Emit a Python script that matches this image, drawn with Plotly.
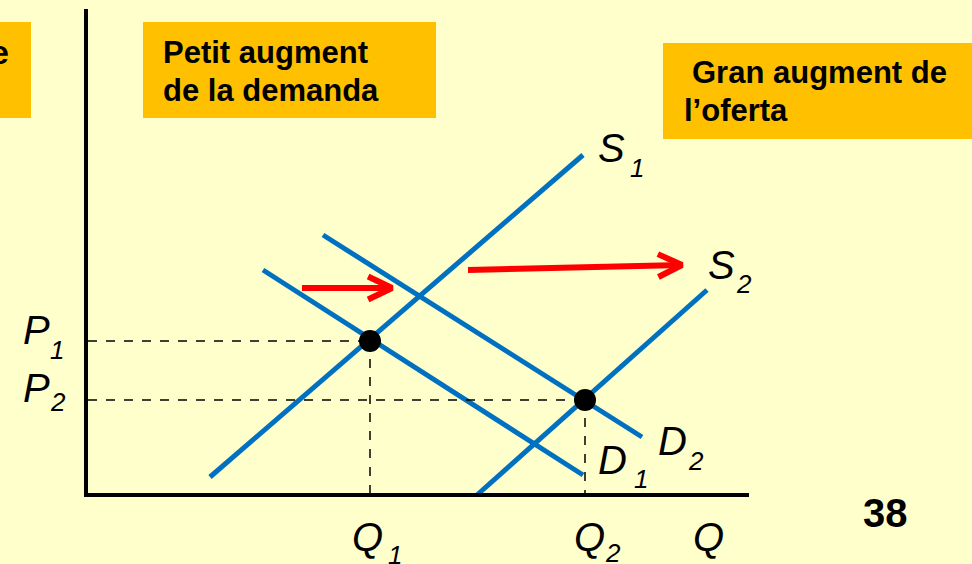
import plotly.graph_objects as go
import math

# ---- data (economic units: quantity on x, price on y) ----
S1_q = [12.4, 49.7]
S1_p = [1.8, 34.0]
S2_q = [39.1, 62.1]
S2_p = [0.0, 20.5]
D1_q = [17.7, 49.7]
D1_p = [22.5, 2.0]
D2_q = [23.7, 55.6]
D2_p = [26.0, 5.8]
eq_q = [28.4, 49.9]
eq_p = [15.4, 9.5]
arrow_demand = [(21.6, 20.7), (30.6, 20.7)]
arrow_supply = [(38.2, 22.5), (59.6, 23.0)]
axis_q_max = 66.3
axis_p_max = 48.6

BG = "#FFFFCC"
BLUE = "#0070C0"
ORANGE = "#FFC000"
RED = "#FF0000"
FONT = "Liberation Sans, Arial, sans-serif"

def X(px):
    return (px - 86) / 10.0

def Y(py):
    return (495 - py) / 10.0

fig = go.Figure()

for q, p in [(S1_q, S1_p), (S2_q, S2_p), (D1_q, D1_p), (D2_q, D2_p)]:
    fig.add_trace(go.Scatter(x=q, y=p, mode="lines",
                             line=dict(color=BLUE, width=5), hoverinfo="skip"))

# dashed guides
for q, p in zip(eq_q, eq_p):
    fig.add_trace(go.Scatter(x=[0.2, q], y=[p, p], mode="lines",
                             line=dict(color="black", width=1.5, dash="dash"), hoverinfo="skip"))
    fig.add_trace(go.Scatter(x=[q, q], y=[p, 0], mode="lines",
                             line=dict(color="black", width=1.5, dash="dash"), hoverinfo="skip"))

# arrows
for (x0, y0), (x1, y1) in [arrow_demand, arrow_supply]:
    ang = math.atan2(y1 - y0, x1 - x0)
    L = 2.65
    a = math.radians(25.6)
    ax1 = x1 - L * math.cos(ang - a)
    ay1 = y1 - L * math.sin(ang - a)
    ax2 = x1 - L * math.cos(ang + a)
    ay2 = y1 - L * math.sin(ang + a)
    fig.add_trace(go.Scatter(x=[x0, x1, None, ax1, x1, ax2], y=[y0, y1, None, ay1, y1, ay2],
                             mode="lines", line=dict(color=RED, width=6), hoverinfo="skip"))

fig.add_trace(go.Scatter(x=eq_q, y=eq_p, mode="markers",
                         marker=dict(color="black", size=22), hoverinfo="skip"))

shapes = []
# orange boxes
for x0, x1, y0, y1 in [(0, 31, 22, 118), (143, 436, 22, 118), (663, 972, 43, 139)]:
    shapes.append(dict(type="rect", xref="x", yref="y", x0=X(x0), x1=X(x1), y0=Y(y0), y1=Y(y1),
                       fillcolor=ORANGE, line=dict(width=0), layer="below"))
# axes
shapes.append(dict(type="line", x0=0, x1=0, y0=-0.2, y1=axis_p_max, line=dict(color="black", width=4)))
shapes.append(dict(type="line", x0=-0.2, x1=axis_q_max, y0=0, y1=0, line=dict(color="black", width=4)))

ann = []
def lab(text, px, py, size, italic=True, bold=False, anchor="left"):
    t = text
    if bold:
        t = "<b>" + t + "</b>"
    if italic:
        t = "<i>" + t + "</i>"
    ann.append(dict(x=X(px), y=Y(py), text=t, showarrow=False, xanchor=anchor, yanchor="middle",
                    font=dict(family=FONT, size=size, color="black")))

# curve labels
lab("S", 596, 148, 40); lab("1", 628, 168, 26)
lab("S", 706, 265, 40); lab("2", 734, 284, 26)
lab("D", 596, 460, 40); lab("1", 632, 479, 26)
lab("D", 656, 441, 40); lab("2", 686, 461, 26)
# axis labels
lab("P", 21, 330, 40); lab("1", 48, 350, 26)
lab("P", 21, 388, 40); lab("2", 48, 402, 26)
lab("Q", 350, 537, 40); lab("1", 386, 555, 26)
lab("Q", 572, 537, 40); lab("2", 603, 553, 26)
lab("Q", 691, 537, 40)
lab("38", 861, 513, 40, italic=False, bold=True)
# box texts
lab("Petit augment", 161, 52, 31, italic=False, bold=True)
lab("de la demanda", 161, 90, 31, italic=False, bold=True)
lab("Gran augment de", 690, 72, 31, italic=False, bold=True)
lab("l’oferta", 682, 110, 31, italic=False, bold=True)
lab("e", 11, 52, 34, italic=False, bold=True, anchor="right")

fig.update_layout(
    width=972, height=564,
    margin=dict(l=0, r=0, t=0, b=0),
    paper_bgcolor=BG, plot_bgcolor=BG,
    showlegend=False,
    xaxis=dict(range=[X(0), X(972)], visible=False, fixedrange=True),
    yaxis=dict(range=[Y(564), Y(0)], visible=False, fixedrange=True),
    shapes=shapes, annotations=ann,
)

fig.write_html("out.html", config={"displayModeBar": False},
               post_script="document.body.style.margin='0';document.body.style.background='" + BG + "';")
